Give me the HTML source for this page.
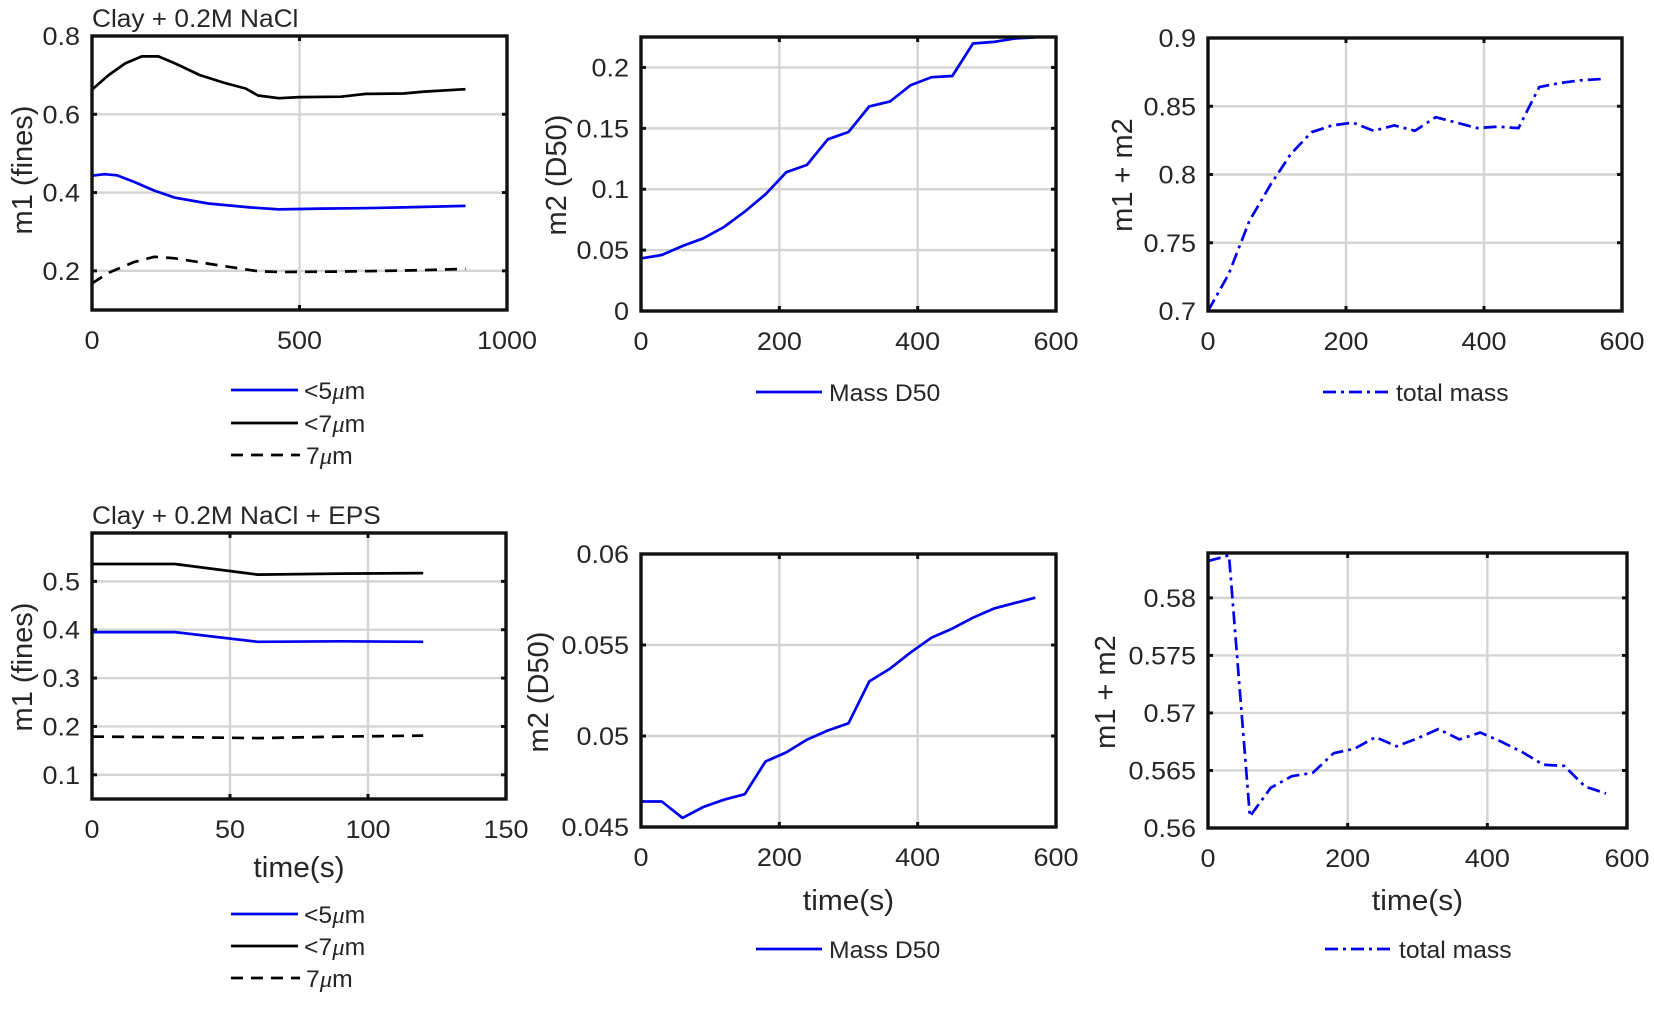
<!DOCTYPE html>
<html><head><meta charset="utf-8"><style>
html,body{margin:0;padding:0;background:#fff;}
svg{display:block;}
text{font-family:"Liberation Sans",Arial,sans-serif;fill:#262626;}
</style></head><body>
<svg id="fig" width="1654" height="1018" viewBox="0 0 1654 1018" xmlns="http://www.w3.org/2000/svg"></svg>
<script>
// ---- data ----
const p1Times5 = [0,30,60,100,150,200,280,380,450,550,650,750,900];
const p1Lt5 = [0.443,0.447,0.444,0.428,0.405,0.387,0.372,0.362,0.357,0.359,0.360,0.362,0.366];
const p1Times7 = [0,40,80,120,160,200,260,320,370,400,450,500,600,660,750,800,900];
const p1Lt7 = [0.663,0.70,0.73,0.748,0.748,0.73,0.70,0.68,0.666,0.648,0.641,0.644,0.645,0.652,0.653,0.658,0.664];
const p1TimesGt = [0,40,100,150,200,300,400,450,600,700,800,900];
const p1Gt7 = [0.168,0.195,0.222,0.236,0.232,0.215,0.199,0.197,0.198,0.200,0.202,0.205];

const tSteps = [0,30,60,90,120,150,180,210,240,270,300,330,360,390,420,450,480,510,540,570];
const p2D50 = [0.0432,0.046,0.0534,0.0597,0.069,0.0816,0.0958,0.114,0.120,0.141,0.147,0.168,0.172,0.1855,0.192,0.193,0.2197,0.221,0.2238,0.2247];
const p3Total = [0.70,0.727,0.766,0.792,0.815,0.831,0.836,0.838,0.832,0.836,0.832,0.842,0.838,0.834,0.835,0.834,0.864,0.867,0.869,0.870];

const p4Times = [0,30,60,90,120];
const p4Lt5 = [0.395,0.395,0.375,0.376,0.375];
const p4Lt7 = [0.536,0.536,0.514,0.516,0.517];
const p4Gt7 = [0.179,0.178,0.176,0.179,0.181];

const p5D50 = [0.0464,0.0464,0.0455,0.0461,0.0465,0.0468,0.0486,0.0491,0.0498,0.0503,0.0507,0.0530,0.0537,0.0546,0.0554,0.0559,0.0565,0.0570,0.0573,0.0576];
const p6Total = [0.5832,0.5837,0.5610,0.5635,0.5645,0.5648,0.5665,0.5669,0.5679,0.5671,0.5678,0.5686,0.5677,0.5683,0.5675,0.5666,0.5655,0.5654,0.5636,0.5630];

const xt1000 = [0,500,1000], xtl1000 = ['0','500','1000'];
const xt600 = [0,200,400,600], xtl600 = ['0','200','400','600'];
const xt150 = [0,50,100,150], xtl150 = ['0','50','100','150'];
const yt1 = [0.2,0.4,0.6,0.8], ytl1 = ['0.2','0.4','0.6','0.8'];
const yt2 = [0,0.05,0.1,0.15,0.2], ytl2 = ['0','0.05','0.1','0.15','0.2'];
const yt3 = [0.7,0.75,0.8,0.85,0.9], ytl3 = ['0.7','0.75','0.8','0.85','0.9'];
const yt4 = [0.1,0.2,0.3,0.4,0.5], ytl4 = ['0.1','0.2','0.3','0.4','0.5'];
const yt5 = [0.045,0.05,0.055,0.06], ytl5 = ['0.045','0.05','0.055','0.06'];
const yt6 = [0.56,0.565,0.57,0.575,0.58], ytl6 = ['0.56','0.565','0.57','0.575','0.58'];

const NS = 'http://www.w3.org/2000/svg';
const svg = document.getElementById('fig');
function mk(tag, attrs, parent){
  const e = document.createElementNS(NS, tag);
  for (const k in attrs) e.setAttribute(k, attrs[k]);
  (parent||svg).appendChild(e);
  return e;
}
function txt(parent, x, y, size, sx, anchor, str){
  const t = mk('text', {x:0, y:0, 'font-size':size, 'text-anchor':anchor||'start',
    transform:'translate('+x+' '+y+') scale('+sx+' 1)'}, parent);
  if (str !== undefined) t.textContent = str;
  return t;
}
const BLUE = '#0000ee';
const DASH = '12 8', DASHDOT = '13 5 3 5';
const TICK = 25, TICKSX = 1.08, AXL = 29, AXLSX = 1.03, LEG = 24, LEGSX = 1.03, TTL = 25, TTLSX = 1.05;

function panel(o){
  const g = mk('g', {});
  
  
  const sx = v => o.L + (v - o.x0) / (o.x1 - o.x0) * (o.R - o.L);
  const sy = v => o.B - (v - o.y0) / (o.y1 - o.y0) * (o.B - o.T);
  o.xt.forEach((v,i) => {
    const x = sx(v);
    if (i>0 && i<o.xt.length-1) {
      const gl = mk('line', {x1:x,x2:x,y1:o.T,y2:o.B,stroke:'#d4d4d4','stroke-width':2.4}, g);
      
      
      mk('line',{x1:x,x2:x,y1:o.T,y2:o.T+5,stroke:'#111','stroke-width':3},g);
      mk('line',{x1:x,x2:x,y1:o.B,y2:o.B-5,stroke:'#111','stroke-width':3},g);
    }
    const t = txt(g, x, o.B+39, TICK, TICKSX, 'middle', o.xtl[i]);
    
    
  });
  o.yt.forEach((v,i) => {
    const y = sy(v);
    if (Math.abs(y-o.T)>2 && Math.abs(y-o.B)>2) {
      const gl = mk('line', {x1:o.L,x2:o.R,y1:y,y2:y,stroke:'#d4d4d4','stroke-width':2.4}, g);
      
      
      mk('line',{x1:o.L,x2:o.L+5,y1:y,y2:y,stroke:'#111','stroke-width':3},g);
      mk('line',{x1:o.R,x2:o.R-5,y1:y,y2:y,stroke:'#111','stroke-width':3},g);
    }
    const t = txt(g, o.L-12, y+9, TICK, TICKSX, 'end', o.ytl[i]);
    
    
  });
  o.series.forEach(s => {
    const pts = s.xs.map((x,i) => sx(x).toFixed(1)+','+sy(s.ys[i]).toFixed(1)).join(' ');
    const a = {points:pts, fill:'none', stroke:s.color, 'stroke-width':2.7, 'stroke-linejoin':'round'};
    if (s.dash) a['stroke-dasharray'] = s.dash;
    const pl = mk('polyline', a, g);
    
    
  });
  const bx = mk('rect', {x:o.L,y:o.T,width:o.R-o.L,height:o.B-o.T,fill:'none',stroke:'#111','stroke-width':3.4}, g);
  
  
  const yl = mk('text', {x:o.ylx, y:o.yly, 'text-anchor':'middle','font-size':AXL, transform:'rotate(-90 '+o.ylx+' '+o.yly+')', 'dominant-baseline':'central'}, g);
  yl.textContent = o.ylabel;
  
  
  if (o.xlabel) {
    const xl = txt(g, (o.L+o.R)/2, o.xly, AXL, AXLSX, 'middle', o.xlabel);
    
    
  }
  if (o.title) {
    const tt = txt(g, o.L, o.T-9, TTL, TTLSX, 'start', o.title);
    
    
  }
  o.legend.forEach(le => {
    const lg = mk('g', {}, g);
    
    
    const a = {x1:le.x1,x2:le.x2,y1:le.y,y2:le.y,stroke:le.color,'stroke-width':2.7};
    if (le.dash) a['stroke-dasharray'] = le.dash;
    mk('line', a, lg);
    const t = txt(lg, le.tx, le.y+9, LEG, LEGSX, 'start');
    if (le.mu) {
      const t1 = mk('tspan', {}, t); t1.textContent = le.pre;
      const t2 = mk('tspan', {'font-style':'italic','font-family':'"Liberation Serif",serif'}, t); t2.textContent = 'μ';
      const t3 = mk('tspan', {}, t); t3.textContent = 'm';
    } else t.textContent = le.label;
  });
}

function fineLegend(yA, yB, yC){
  return [
    {x1:231,x2:298,y:yA,color:BLUE,tx:304,mu:true,pre:'<5'},
    {x1:231,x2:298,y:yB,color:'#000',tx:304,mu:true,pre:'<7'},
    {x1:231,x2:300,y:yC,color:'#000',dash:DASH,tx:306,mu:true,pre:'7'}
  ];
}

panel({name:'panel-fines-nacl',L:92,R:507,T:36,B:310,x0:0,x1:1000,y0:0.1,y1:0.8,
  xt:xt1000,xtl:xtl1000,yt:yt1,ytl:ytl1,ylabel:'m1  (fines)',ylx:23,yly:170,
  title:'Clay + 0.2M NaCl',
  series:[
    {name:'line-lt7um',xs:p1Times7,ys:p1Lt7,color:'#000'},
    {name:'line-lt5um',xs:p1Times5,ys:p1Lt5,color:BLUE},
    {name:'line-7um',xs:p1TimesGt,ys:p1Gt7,color:'#000',dash:DASH}],
  legend:fineLegend(390,423,455)});

panel({name:'panel-d50-nacl',L:641,R:1056,T:37,B:311,x0:0,x1:600,y0:0,y1:0.225,
  xt:xt600,xtl:xtl600,yt:yt2,ytl:ytl2,ylabel:'m2  (D50)',ylx:557,yly:175,
  series:[{name:'line-mass-d50',xs:tSteps,ys:p2D50,color:BLUE}],
  legend:[{x1:756,x2:822,y:392,color:BLUE,tx:829,label:'Mass D50'}]});

panel({name:'panel-total-nacl',L:1208,R:1622,T:38,B:311,x0:0,x1:600,y0:0.7,y1:0.9,
  xt:xt600,xtl:xtl600,yt:yt3,ytl:ytl3,ylabel:'m1 + m2',ylx:1123,yly:175,
  series:[{name:'line-total-mass',xs:tSteps,ys:p3Total,color:BLUE,dash:DASHDOT}],
  legend:[{x1:1323,x2:1389,y:392,color:BLUE,dash:DASHDOT,tx:1396,label:'total mass'}]});

panel({name:'panel-fines-eps',L:92,R:506,T:533,B:799,x0:0,x1:150,y0:0.05,y1:0.6,
  xt:xt150,xtl:xtl150,yt:yt4,ytl:ytl4,ylabel:'m1  (fines)',ylx:23,yly:667,
  title:'Clay + 0.2M NaCl + EPS',xlabel:'time(s)',xly:877,
  series:[
    {name:'line-lt7um',xs:p4Times,ys:p4Lt7,color:'#000'},
    {name:'line-lt5um',xs:p4Times,ys:p4Lt5,color:BLUE},
    {name:'line-7um',xs:p4Times,ys:p4Gt7,color:'#000',dash:DASH}],
  legend:fineLegend(914,946,978)});

panel({name:'panel-d50-eps',L:641,R:1056,T:554,B:827,x0:0,x1:600,y0:0.045,y1:0.06,
  xt:xt600,xtl:xtl600,yt:yt5,ytl:ytl5,ylabel:'m2  (D50)',ylx:539,yly:692,
  xlabel:'time(s)',xly:910,
  series:[{name:'line-mass-d50',xs:tSteps,ys:p5D50,color:BLUE}],
  legend:[{x1:756,x2:822,y:949,color:BLUE,tx:829,label:'Mass D50'}]});

panel({name:'panel-total-eps',L:1208,R:1627,T:553,B:828,x0:0,x1:600,y0:0.56,y1:0.5839,
  xt:xt600,xtl:xtl600,yt:yt6,ytl:ytl6,ylabel:'m1 + m2',ylx:1106,yly:692,
  xlabel:'time(s)',xly:910,
  series:[{name:'line-total-mass',xs:tSteps,ys:p6Total,color:BLUE,dash:DASHDOT}],
  legend:[{x1:1325,x2:1393,y:949,color:BLUE,dash:DASHDOT,tx:1399,label:'total mass'}]});
</script>
</body></html>
